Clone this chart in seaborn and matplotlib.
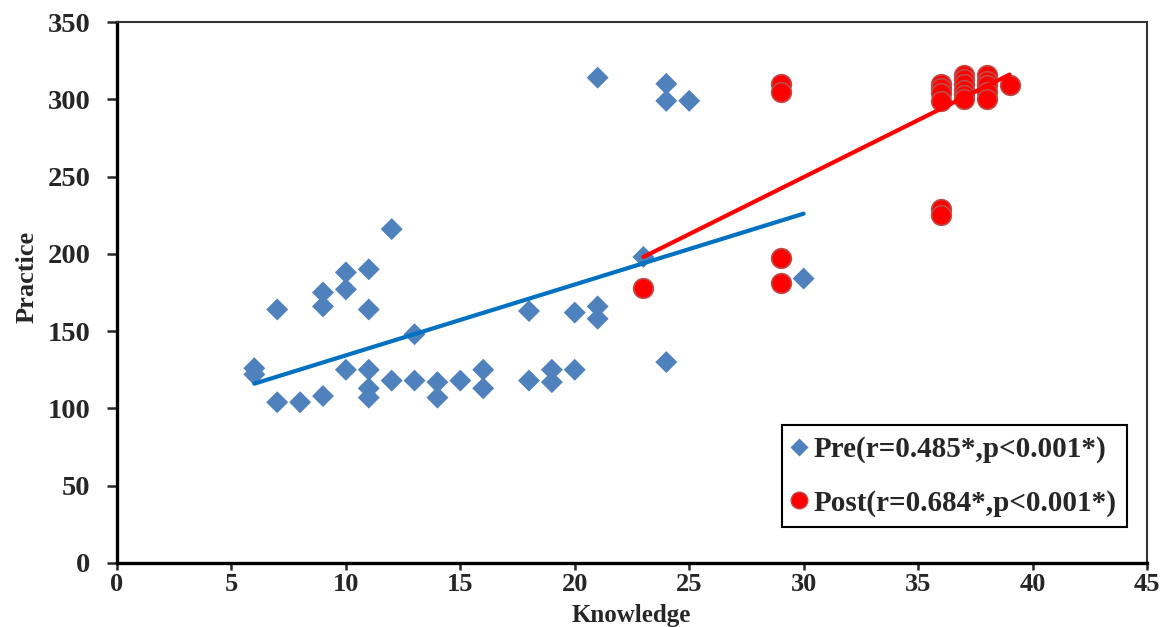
import numpy as np
import pandas as pd
import matplotlib
matplotlib.use('Agg')
import matplotlib.pyplot as plt
import seaborn as sns

# Pre-intervention knowledge/practice scores
pre_knowledge = [6, 6, 7, 7, 8, 9, 9, 9, 10, 10, 10, 11, 11, 11, 11, 11, 12, 12, 13, 13,
                 14, 14, 15, 16, 16, 18, 18, 19, 19, 20, 20, 21, 21, 21, 23, 24, 24, 24, 25, 30]
pre_practice = [126, 122, 164, 104, 104, 108, 175, 166, 188, 177, 125, 190, 164, 125, 113, 107, 216, 118, 148, 118,
                117, 107, 118, 125, 113, 163, 118, 125, 117, 162, 125, 314, 166, 158, 198, 310, 299, 130, 299, 184]

# Post-intervention scores
post_knowledge = [23, 29, 29, 29, 29, 36, 36, 36, 36, 36, 36,
                  37, 37, 37, 37, 37, 37, 38, 38, 38, 38, 38, 39]
post_practice = [178, 310, 305, 197, 181, 229, 225, 310, 307, 304, 299,
                 316, 313, 310, 306, 303, 300, 316, 312, 309, 305, 300, 309]

# Linear trend line end points as drawn in the original
pre_trend_x = [6, 30]
pre_trend_y = [116, 226]
post_trend_x = [23, 39]
post_trend_y = [198, 316]

pre_label = 'Pre(r=0.485*,p<0.001*)'
post_label = 'Post(r=0.684*,p<0.001*)'

sns.set_style('white')
plt.rcParams['font.family'] = ['Liberation Serif', 'DejaVu Serif']
plt.rcParams['font.weight'] = 'bold'

fig = plt.figure(figsize=(11.63, 6.27), dpi=100)
ax = fig.add_axes([0.1006, 0.1021, 0.8856, 0.8628])

pre_df = pd.DataFrame({'Knowledge': pre_knowledge, 'Practice': pre_practice})
post_df = pd.DataFrame({'Knowledge': post_knowledge, 'Practice': post_practice})

sns.scatterplot(data=pre_df, x='Knowledge', y='Practice', marker='D', s=125,
                color='#4F81BD', edgecolor='none', ax=ax, zorder=3)
sns.scatterplot(data=post_df, x='Knowledge', y='Practice', marker='o', s=200,
                color='#FF0000', edgecolor='#BE4B48', linewidth=1.2, ax=ax, zorder=3)

sns.lineplot(x=pre_trend_x, y=pre_trend_y, color='#0070C0', linewidth=3, ax=ax, zorder=4)
sns.lineplot(x=post_trend_x, y=post_trend_y, color='#FF0000', linewidth=3, ax=ax, zorder=4)

ax.set_xlim(0, 45)
ax.set_ylim(0, 350)
ax.set_xticks(np.arange(0, 46, 5))
ax.set_yticks(np.arange(0, 351, 50))

for side in ['left', 'bottom']:
    ax.spines[side].set_color('black')
    ax.spines[side].set_linewidth(2.4)
for side in ['top', 'right']:
    ax.spines[side].set_color('#333333')
    ax.spines[side].set_linewidth(1.5)

ax.tick_params(axis='y', direction='out', length=7, width=1.8, pad=12, labelsize=20.5, left=True)
ax.tick_params(axis='x', direction='out', length=5, width=1.8, pad=2, labelsize=19, bottom=True)
for lbl in ax.get_xticklabels() + ax.get_yticklabels():
    lbl.set_fontweight('bold')

ax.set_xlabel('Knowledge', fontsize=18, fontweight='bold', va='bottom')
ax.set_ylabel('Practice', fontsize=19, fontweight='bold')
# xlabel sits on the bottom edge of the figure, like the original
ax.xaxis.set_label_coords(0.499, -64 / 541)
ax.yaxis.set_label_coords(-0.076, 0.528)

handles = [
    plt.Line2D([], [], marker='D', linestyle='none', markersize=9,
               markerfacecolor='#4F81BD', markeredgecolor='none'),
    plt.Line2D([], [], marker='o', linestyle='none', markersize=12,
               markerfacecolor='#FF0000', markeredgecolor='#BE4B48'),
]
leg = ax.legend(handles, [pre_label, post_label], loc='lower right',
                bbox_to_anchor=(0.981, 0.066), fancybox=False, framealpha=1,
                edgecolor='black', prop={'size': 21, 'weight': 'bold'},
                handlelength=0.5, handletextpad=0.25, labelspacing=0.9,
                borderpad=0.36, borderaxespad=0)
leg.get_frame().set_linewidth(1.5)

fig.savefig('out.png', dpi=100)
